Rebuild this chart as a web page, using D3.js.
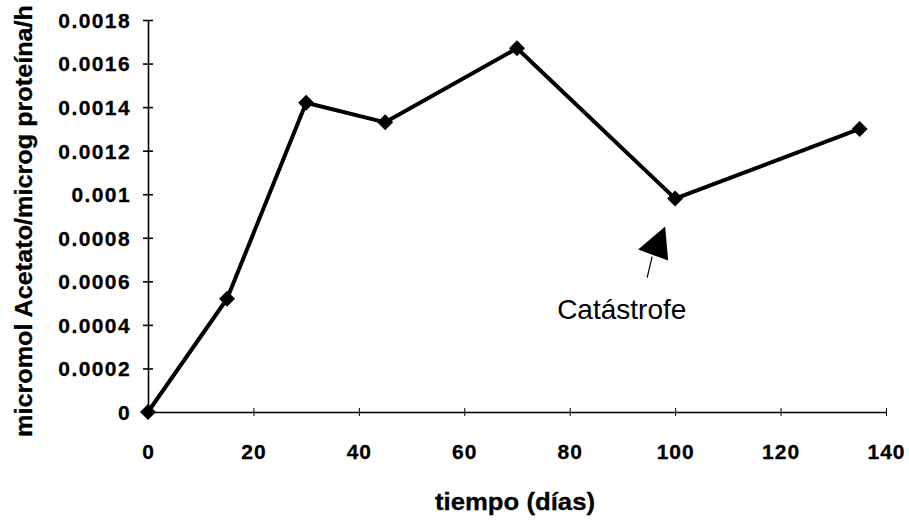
<!DOCTYPE html>
<html>
<head>
<meta charset="utf-8">
<script src="https://cdn.jsdelivr.net/npm/d3@7"></script>
<style>
  body { margin: 0; background: #fff; }
  svg { display: block; font-family: Arial, "Liberation Sans", sans-serif; }
</style>
</head>
<body>
<div id="chart"></div>
<script>
// datos
var dias = [0, 15, 30, 45, 70, 100, 135];
var acetato = [0, 0.00052, 0.00142, 0.00133, 0.00167, 0.00098, 0.0013];
var xTicks = [0, 20, 40, 60, 80, 100, 120, 140];
var yTicks = [0, 0.0002, 0.0004, 0.0006, 0.0008, 0.001, 0.0012, 0.0014, 0.0016, 0.0018];
var yTickLabels = ["0", "0.0002", "0.0004", "0.0006", "0.0008", "0.001", "0.0012", "0.0014", "0.0016", "0.0018"];
var xTitle = "tiempo (días)";
var yTitle = "micromol Acetato/microg proteína/h";
var nota = "Catástrofe";
var notaDia = 100;

(function() {
    var width = 909,
    height = 520;

    var svg = d3.select("#chart")
    .append("svg")
    .attr("width", width)
    .attr("height", height);

    var x = d3.scaleLinear().domain([0, 140]).range([148, 886]);
    var y = d3.scaleLinear().domain([0, 0.0018]).range([412, 20]);

    var data = dias.map(function(d, i) { return {dia: d, valor: acetato[i]}; });

    // eje x
    var xAxis = svg.append("g")
        .attr("transform", "translate(0," + y(0) + ")")
        .call(d3.axisBottom(x).tickValues(xTicks).tickSize(4).tickSizeOuter(0));
    xAxis.select(".domain").attr("stroke", "#000").attr("stroke-width", 1.3);
    xAxis.selectAll(".tick line").attr("y1", -4).attr("y2", 4).attr("stroke", "#000");
    xAxis.selectAll(".tick text")
        .attr("fill", "#000")
        .attr("dy", 0)
        .attr("y", 47)
        .attr("stroke", "#000")
        .attr("stroke-width", 0.3)
        .style("font-size", "21px")
        .style("font-weight", "bold")
        .style("letter-spacing", "1px");

    // eje y
    var yAxis = svg.append("g")
        .attr("transform", "translate(" + x(0) + ",0)")
        .call(d3.axisLeft(y).tickValues(yTicks).tickSize(5).tickSizeOuter(0)
            .tickFormat(function(d, i) { return yTickLabels[i]; }));
    yAxis.select(".domain").attr("stroke", "#000").attr("stroke-width", 1.6);
    yAxis.selectAll(".tick line").attr("x1", 5).attr("x2", -5).attr("stroke", "#000").attr("stroke-width", 1.6);
    yAxis.selectAll(".tick text")
        .attr("fill", "#000")
        .attr("x", -17)
        .attr("dy", "0.35em")
        .attr("stroke", "#000")
        .attr("stroke-width", 0.3)
        .style("font-size", "21px")
        .style("font-weight", "bold")
        .style("letter-spacing", "1.4px");

    // titulos
    svg.append("text")
        .attr("x", 515)
        .attr("y", 510)
        .attr("text-anchor", "middle")
        .attr("textLength", 160)
        .attr("lengthAdjust", "spacingAndGlyphs")
        .attr("stroke", "#000")
        .attr("stroke-width", 0.3)
        .style("font-size", "24px")
        .style("font-weight", "bold")
        .text(xTitle);

    svg.append("text")
        .attr("transform", "translate(32,221) rotate(-90)")
        .attr("text-anchor", "middle")
        .attr("textLength", 432)
        .attr("lengthAdjust", "spacingAndGlyphs")
        .attr("stroke", "#000")
        .attr("stroke-width", 0.3)
        .style("font-size", "24px")
        .style("font-weight", "bold")
        .text(yTitle);

    // linea
    var line = d3.line()
        .x(function(d) { return x(d.dia); })
        .y(function(d) { return y(d.valor); });

    svg.append("path")
        .datum(data)
        .attr("d", line)
        .attr("fill", "none")
        .attr("stroke", "#000")
        .attr("stroke-width", 4)
        .attr("stroke-linejoin", "round");

    svg.selectAll(".punto")
        .data(data)
        .enter().append("path")
        .attr("class", "punto")
        .attr("d", d3.symbol(d3.symbolSquare, 128))
        .attr("transform", function(d) {
            return "translate(" + x(d.dia) + "," + y(d.valor) + ") rotate(45)";
        })
        .attr("fill", "#000");

    // anotacion "Catástrofe"
    var p = data.filter(function(d) { return d.dia === notaDia; })[0];
    var g = svg.append("g")
        .attr("transform", "translate(" + x(p.dia) + "," + y(p.valor) + ")");

    g.append("path")
        .attr("d", "M-10,28 L-37,51 L-7,62 Z")
        .attr("fill", "#000");
    g.append("line")
        .attr("x1", -23).attr("y1", 58)
        .attr("x2", -28).attr("y2", 79)
        .attr("stroke", "#000")
        .attr("stroke-width", 1.2);
    g.append("text")
        .attr("x", -118)
        .attr("y", 120)
        .style("font-size", "28px")
        .text(nota);
})();
</script>
</body>
</html>
